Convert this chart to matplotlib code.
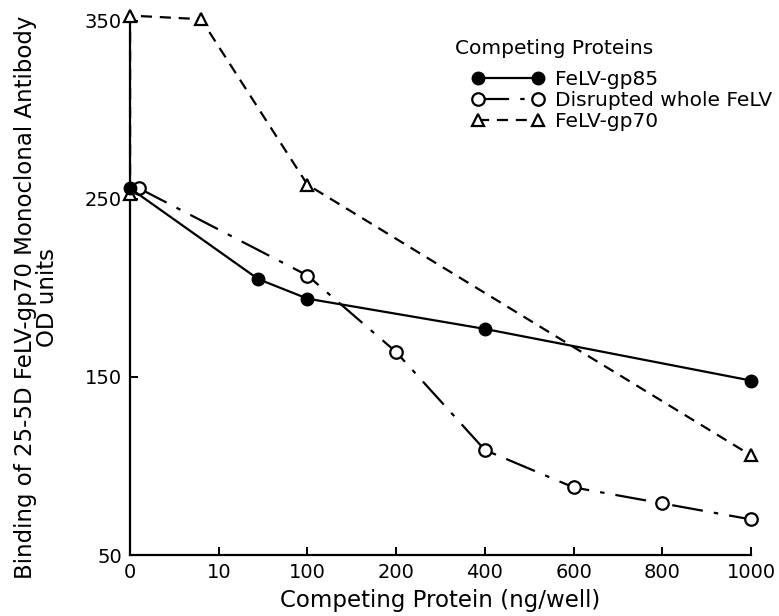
import numpy as np
import matplotlib
matplotlib.use("Agg")
import matplotlib.pyplot as plt

# ---- data ----
x_ticks = [0, 10, 100, 200, 400, 600, 800, 1000]
x_tick_labels = ["0", "10", "100", "200", "400", "600", "800", "1000"]
y_ticks = [50, 150, 250, 350]

gp85_x = [0, 50, 100, 400, 1000]
gp85_y = [256, 205, 194, 177, 148]

whole_x = [1, 100, 200, 400, 600, 800, 1000]
whole_y = [256, 207, 164, 109, 88, 79, 70]

gp70_x = [0, 0, 8, 100, 1000]
gp70_y = [253, 353, 351, 258, 106]

labels = ["FeLV-gp85", "Disrupted whole FeLV", "FeLV-gp70"]
legend_title = "Competing Proteins"

plt.rcParams['font.family'] = ['DejaVu Sans']

fig = plt.figure(figsize=(7.79, 6.16), dpi=100)
ax = fig.add_axes([0.167, 0.099, 0.797, 0.867])

idx = np.arange(len(x_ticks), dtype=float)
xt = np.array(x_ticks, dtype=float)
def fwd(v):
    return np.interp(v, xt, idx)
def inv(p):
    return np.interp(p, idx, xt)
ax.set_xscale('function', functions=(fwd, inv))

ax.plot(gp85_x, gp85_y, '-', color='black', lw=1.6, marker='o', ms=9,
        mfc='black', mec='black', label=labels[0], clip_on=False, zorder=4)
ax.plot(whole_x, whole_y, color='black', lw=1.6, marker='o', ms=9,
        mfc='white', mec='black', mew=1.6, dashes=[14, 5, 2, 5],
        label=labels[1], clip_on=False, zorder=3)
ax.plot(gp70_x, gp70_y, color='black', lw=1.6, marker='^', ms=9,
        mfc='white', mec='black', mew=1.6, dashes=[5, 3.5],
        label=labels[2], clip_on=False, zorder=3)

ax.set_xlim(0, 1000)
ax.set_ylim(50, 350)
ax.set_xticks(x_ticks)
ax.set_xticklabels(x_tick_labels)
ax.set_yticks(y_ticks)
ax.tick_params(direction='in', length=6, width=1.4, labelsize=14)
ax.tick_params(axis='x', pad=6)
ax.tick_params(axis='y', pad=6)

for s in ['top', 'right']:
    ax.spines[s].set_visible(False)
for s in ['left', 'bottom']:
    ax.spines[s].set_linewidth(1.6)

ax.set_xlabel("Competing Protein (ng/well)", fontsize=16.5, labelpad=5)
ax.set_ylabel("Binding of 25-5D FeLV-gp70 Monoclonal Antibody\nOD units",
              fontsize=16.5, linespacing=0.95)
ax.yaxis.set_label_coords(-0.115, 0.483)

fig.text(455 / 779, 1 - 49 / 616, legend_title, fontsize=14.5,
         ha='left', va='center')
leg = fig.legend(*ax.get_legend_handles_labels(), loc='upper left',
                 bbox_to_anchor=(472 / 779, 1 - 70 / 616), frameon=False,
                 fontsize=14.5, numpoints=2, handlelength=3.6, handletextpad=0.5,
                 labelspacing=0.1, borderpad=0, borderaxespad=0)

fig.savefig("out.png", dpi=100)
